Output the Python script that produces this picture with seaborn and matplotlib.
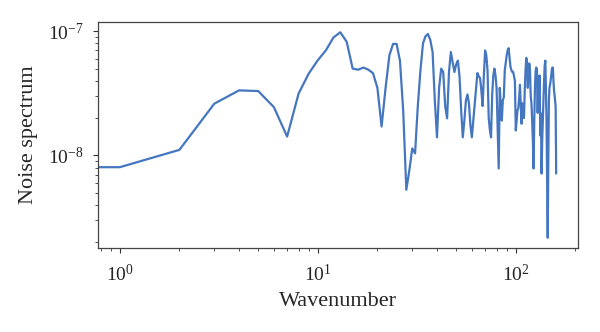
import numpy as np
import pandas as pd
import matplotlib
matplotlib.use("Agg")
import matplotlib.pyplot as plt
import seaborn as sns

# Wavenumbers 0..160 and noise spectrum values (in units of 1e-8)
wavenumber = list(range(0, 161))
noise_e8 = [
    0.80, 0.805, 1.11, 2.61, 3.34, 3.30, 2.45, 1.42, 3.15, 4.56,   # 0-9
    5.84, 7.03, 8.9, 9.8, 8.2, 5.0, 4.9, 5.1, 4.9, 4.6,            # 10-19
    3.5, 1.71, 3.5, 6.4, 7.9, 7.9, 5.8, 2.3, 0.53, 0.76,           # 20-29
    1.14, 1.04, 2.5, 4.85, 8.0, 9.1, 9.5, 8.5, 6.8, 2.78,          # 30-39
    1.40, 3.5, 5.0, 4.7, 2.5, 1.99, 4.7, 6.8, 5.6, 4.7,            # 40-49
    5.4, 5.8, 4.3, 2.3, 1.40, 1.91, 2.78, 3.1, 2.63, 1.75,         # 50-59
    1.40, 1.91, 2.63, 3.5, 4.6, 4.35, 4.2, 3.35, 2.5, 4.4,         # 60-69
    7.0, 6.4, 4.85, 2.0, 1.6, 1.40, 3.05, 4.4, 5.0, 4.4,           # 70-79
    3.5, 1.59, 0.786, 3.5, 2.53, 1.91, 2.78, 2.93, 4.85, 5.6,      # 80-89
    6.4, 7.0, 7.3, 6.1, 5.2, 4.85, 4.7, 4.7, 4.35, 4.0,            # 90-99
    1.59, 1.91, 2.3, 2.4, 2.9, 3.7, 2.53, 1.8, 2.63, 2.1,          # 100-109
    2.0, 3.35, 4.85, 6.1, 5.6, 3.5, 4.6, 5.5, 4.85, 3.0,           # 110-119
    2.63, 1.91, 1.32, 0.786, 1.91, 3.5, 4.8, 5.1, 4.85, 2.2,       # 120-129
    4.3, 3.3, 4.4, 1.45, 2.18, 0.716, 1.32, 1.91, 2.63, 4.0,       # 130-139
    5.3, 5.8, 3.5, 1.91, 0.63, 0.218, 0.91, 2.78, 3.5, 3.7,        # 140-149
    4.0, 4.4, 4.85, 5.1, 5.1, 4.0, 3.35, 3.05, 2.78, 2.45,         # 150-159
    0.716,                                                          # 160
]
x_label = "Wavenumber"
y_label = "Noise spectrum"

df = pd.DataFrame({"k": wavenumber, "noise": np.array(noise_e8) * 1e-8})

sns.set_theme(style="ticks")
plt.rcParams["font.family"] = ["Liberation Serif", "DejaVu Serif"]
plt.rcParams["mathtext.fontset"] = "stix"

fig = plt.figure(figsize=(6.0, 3.32), dpi=100)
ax = fig.add_axes([98 / 600, 1 - 248 / 332, 480 / 600, 226 / 332])

sns.lineplot(data=df, x="k", y="noise", ax=ax, color="#4576c0",
             linewidth=1.6, sort=False, estimator=None)
ax.set_xscale("log")
ax.set_yscale("log")

ax.set_xlabel(x_label, fontsize=16, labelpad=5)
ax.set_ylabel(y_label, fontsize=16, labelpad=7)
ax.tick_params(axis="both", which="major", labelsize=14, length=3.5,
               width=0.8, color="#333333", direction="out")
ax.tick_params(axis="x", which="major", pad=8)
ax.tick_params(axis="y", which="major", pad=7)
ax.tick_params(axis="both", which="minor", length=2, width=0.6,
               color="#333333", direction="out")
for s in ax.spines.values():
    s.set_color("#444444")
    s.set_linewidth(0.9)

fig.savefig("out.png", dpi=100)
